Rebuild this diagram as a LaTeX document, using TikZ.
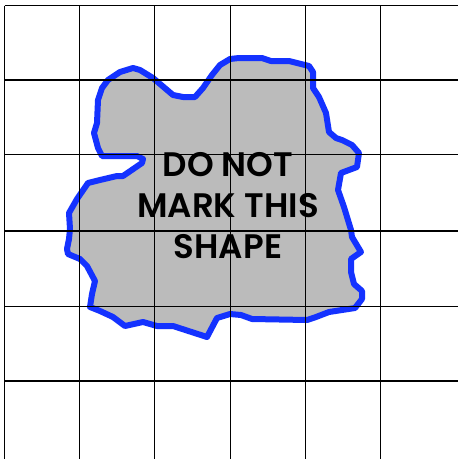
\documentclass[tikz,border=0pt]{standalone}
\usepackage{fontspec}
\setmainfont{Poppins}[BoldFont={* SemiBold}]
\begin{document}
\begin{tikzpicture}[x=1pt,y=-1pt,
  gridline/.style={black,line width=1.5pt},
  blob/.style={draw={rgb,255:red,20;green,50;blue,255},fill={rgb,255:red,187;green,187;blue,187},line width=6pt,line join=round},
  label/.style={font=\bfseries\fontsize{34}{41}\selectfont,align=center,inner sep=0pt}]
\useasboundingbox (0,0) rectangle (458,459);
\fill[white] (0,0) rectangle (458,459);
\draw[blob] (70,229) -- (69,213) -- (77,199) -- (88,183) -- (100,180) -- (117,176) -- (123,176)
 -- (142,163) -- (143,159) -- (137,156) -- (102,156) -- (98,148) -- (94,133) -- (97,123)
 -- (98,100) -- (102,88) -- (108,80) -- (120,72) -- (133,68) -- (140,70) -- (153,78)
 -- (173,95) -- (183,97) -- (195,97) -- (203,88) -- (212,75) -- (220,65) -- (230,59)
 -- (239,58) -- (262,58) -- (271,61) -- (289,61) -- (309,66) -- (313,72) -- (313,88)
 -- (319,97) -- (326,113) -- (329,132) -- (336,138) -- (342,140) -- (352,145) -- (359,153)
 -- (357,167) -- (341,173) -- (338,190) -- (344,207) -- (351,230) -- (352,237) -- (361,252)
 -- (351,259) -- (351,272) -- (354,284) -- (362,291) -- (362,299) -- (355,308) -- (342,310)
 -- (329,312) -- (316,317) -- (307,320) -- (252,319) -- (241,315) -- (230,314) -- (217,318)
 -- (207,337) -- (173,326) -- (157,326) -- (150,324) -- (143,322) -- (125,326) -- (113,317)
 -- (100,311) -- (90,307) -- (92,294) -- (95,281) -- (87,266) -- (80,259) -- (68,254)
 -- (67,249) -- (69,239) -- cycle;
\foreach \v in {4.5,79.5,154.5,230.5,305.5,380.5} \draw[gridline] (\v,5.5) -- (\v,459);
\foreach \h in {5.5,80,154.5,231,306.5,381} \draw[gridline] (4.5,\h) -- (458,\h);
\node[label] (txt) at (228,206) {DO NOT\\MARK THIS\\SHAPE};
\end{tikzpicture}
\end{document}
